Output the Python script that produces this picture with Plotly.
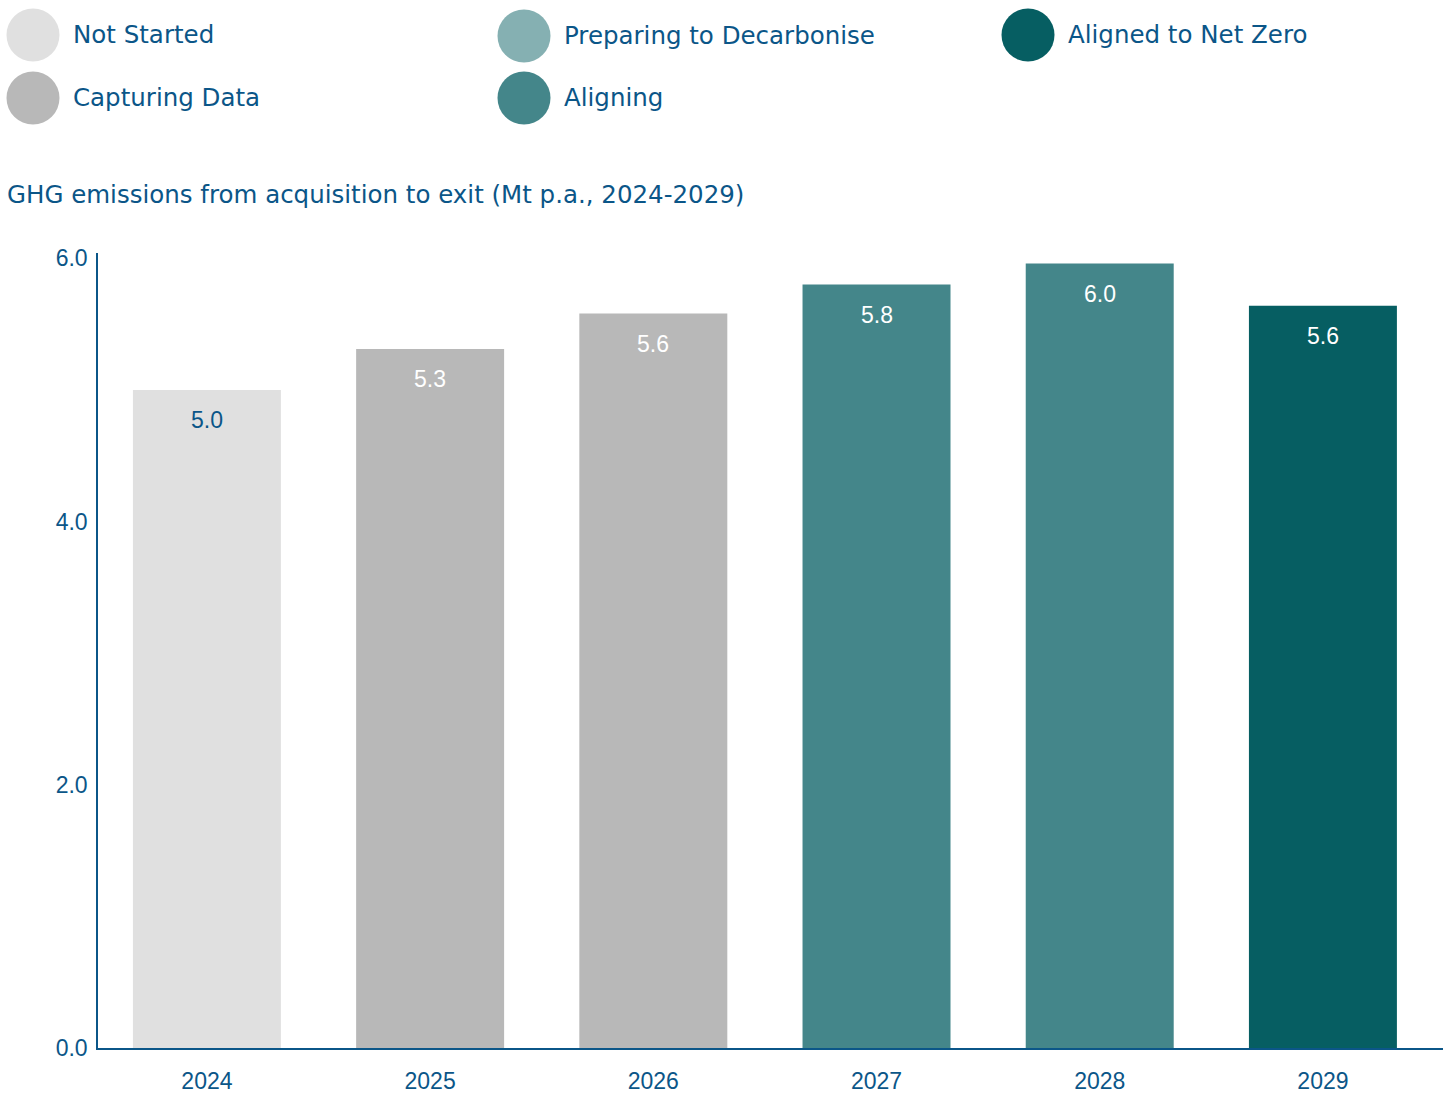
import plotly.graph_objects as go

years = ["2024", "2025", "2026", "2027", "2028", "2029"]
emissions = [5.0, 5.31, 5.58, 5.80, 5.96, 5.64]
status = ["Not Started", "Capturing Data", "Capturing Data", "Aligning", "Aligning", "Aligned to Net Zero"]

legend_order = ["Not Started", "Capturing Data", "Preparing to Decarbonise", "Aligning", "Aligned to Net Zero"]
status_colors = {
    "Not Started": "#e0e0e0",
    "Capturing Data": "#b8b8b8",
    "Preparing to Decarbonise": "#85b0b2",
    "Aligning": "#44868a",
    "Aligned to Net Zero": "#065e62",
}
label_colors = {
    "Not Started": "#0b5688",
    "Capturing Data": "#ffffff",
    "Preparing to Decarbonise": "#ffffff",
    "Aligning": "#ffffff",
    "Aligned to Net Zero": "#ffffff",
}
title_text = "GHG emissions from acquisition to exit (Mt p.a., 2024-2029)"
y_ticks = [0, 2, 4, 6]

TXT = "#0b5688"
W, H = 1451, 1095
L, R, T, B = 98, 8, 253, 47
PW, PH = W - L - R, H - T - B

def px_x(p):
    return (p - L) / PW

def px_y(p):
    return (H - B - p) / PH

fig = go.Figure()
fig.add_trace(go.Bar(
    x=years, y=emissions,
    marker=dict(color=[status_colors[s] for s in status], line=dict(width=0)),
    width=0.663, hoverinfo="x+y", showlegend=False,
))

for i, (v, s) in enumerate(zip(emissions, status)):
    fig.add_annotation(x=i, y=v, text=f"{v:.1f}", showarrow=False, yanchor="middle",
                       yshift=-30, font=dict(family="Liberation Sans, Arial", size=23, color=label_colors[s]))

# legend grid positions (pixels of circle centres)
legend_pos = {
    "Not Started": (33, 35),
    "Capturing Data": (33, 98),
    "Preparing to Decarbonise": (524, 36),
    "Aligning": (524, 98),
    "Aligned to Net Zero": (1028, 35),
}
for name in legend_order:
    cx, cy = legend_pos[name]
    fig.add_shape(type="circle", xref="paper", yref="paper", xsizemode="pixel", ysizemode="pixel",
                  xanchor=px_x(cx), yanchor=px_y(cy), x0=-26.5, x1=26.5, y0=-26.5, y1=26.5,
                  fillcolor=status_colors[name], line=dict(width=0))
    fig.add_annotation(xref="paper", yref="paper", x=px_x(cx + 38), y=px_y(cy - 1), text=name,
                       showarrow=False, xanchor="left", yanchor="middle",
                       font=dict(family="DejaVu Sans", size=24.5, color=TXT))

fig.add_annotation(xref="paper", yref="paper", x=px_x(5), y=px_y(194), text=title_text,
                   showarrow=False, xanchor="left", yanchor="middle",
                   font=dict(family="DejaVu Sans", size=24.5, color=TXT))

fig.update_layout(
    width=W, height=H,
    margin=dict(l=L, r=R, t=T, b=B, autoexpand=False),
    paper_bgcolor="white", plot_bgcolor="white",
    xaxis=dict(type="category", showline=True, linecolor=TXT, linewidth=1.5, ticks="", showgrid=False,
               ticklabelstandoff=12, automargin=False, range=[-0.488, 5.538],
               tickfont=dict(family="Liberation Sans, Arial", size=23, color=TXT)),
    yaxis=dict(range=[0, 6.04], tickvals=y_ticks, ticktext=[f"{t:.1f}" for t in y_ticks],
               showline=True, linecolor=TXT, linewidth=1.5, ticks="", showgrid=False, zeroline=False,
               ticklabelstandoff=4, automargin=False,
               tickfont=dict(family="Liberation Sans, Arial", size=23, color=TXT)),
    font=dict(family="DejaVu Sans", color=TXT),
)

fig.write_html("out.html")
